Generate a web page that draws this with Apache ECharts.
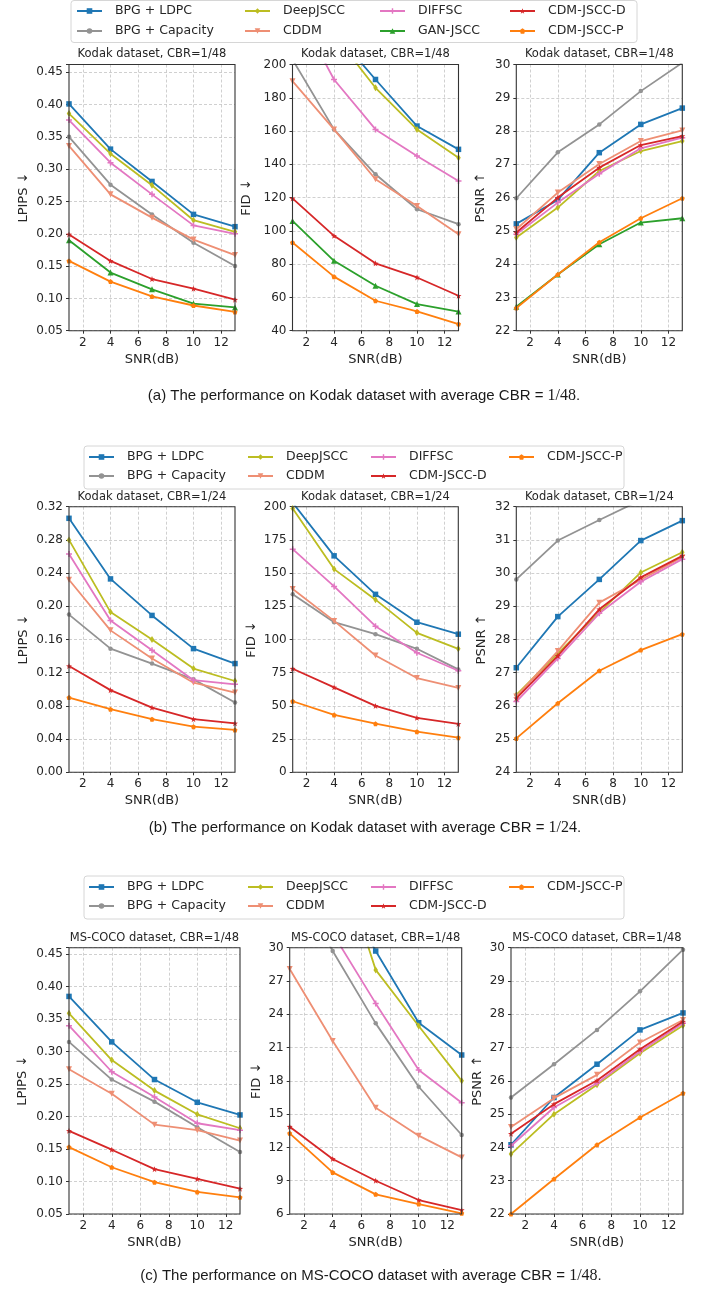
<!DOCTYPE html>
<html>
<head>
<meta charset="utf-8">
<script src="https://cdn.jsdelivr.net/npm/echarts@6/dist/echarts.min.js"></script>
<style>
  html, body { margin: 0; padding: 0; background: #fff; }
  #chart { width: 709px; height: 1294px; }
</style>
</head>
<body>
<div id="chart"></div>
<script>
// x values and tick labels
const snr = [1, 4, 7, 10, 13];
const snrTicks = [2, 4, 6, 8, 10, 12];

const methods = ['BPG + LDPC', 'BPG + Capacity', 'DeepJSCC', 'CDDM', 'DIFFSC', 'GAN-JSCC', 'CDM-JSCC-D', 'CDM-JSCC-P'];
const colors = ['#1f77b4', '#939393', '#bcbd22', '#ee8f74', '#e377c2', '#2ca02c', '#d62728', '#ff7f0e'];

// rows follow methods order, null = method not in that panel
// Kodak, CBR=1/48
const kodak48Lpips = [
  [0.401, 0.331, 0.281, 0.230, 0.211],
  [0.350, 0.276, 0.230, 0.186, 0.150],
  [0.386, 0.324, 0.275, 0.221, 0.203],
  [0.336, 0.261, 0.225, 0.191, 0.167],
  [0.376, 0.310, 0.261, 0.213, 0.200],
  [0.190, 0.140, 0.114, 0.092, 0.086],
  [0.199, 0.158, 0.130, 0.115, 0.098],
  [0.158, 0.126, 0.103, 0.089, 0.079]
];
const kodak48Fid = [
  [262, 220, 191, 163, 149],
  [203, 161, 134, 113, 104],
  [258, 218, 186, 161, 144],
  [190, 161, 131, 115, 98],
  [238, 191, 161, 145, 130],
  [106, 82, 67, 56, 51.5],
  [119.5, 97, 80.5, 72, 61],
  [93, 72.5, 58, 51.6, 44]
];
const kodak48Psnr = [
  [25.21, 25.93, 27.35, 28.2, 28.69],
  [25.98, 27.36, 28.2, 29.2, 30.05],
  [24.8, 25.7, 26.8, 27.4, 27.7],
  [25.05, 26.15, 27.01, 27.7, 28.02],
  [24.9, 25.85, 26.72, 27.48, 27.8],
  [22.72, 23.69, 24.6, 25.25, 25.38],
  [24.95, 26.0, 26.9, 27.58, 27.85],
  [22.68, 23.69, 24.66, 25.38, 25.98]
];
// Kodak, CBR=1/24
const kodak24Lpips = [
  [0.306, 0.233, 0.189, 0.149, 0.131],
  [0.190, 0.149, 0.131, 0.112, 0.084],
  [0.280, 0.193, 0.160, 0.125, 0.110],
  [0.232, 0.171, 0.137, 0.108, 0.096],
  [0.263, 0.183, 0.147, 0.111, 0.106],
  null,
  [0.128, 0.099, 0.078, 0.064, 0.059],
  [0.090, 0.076, 0.064, 0.055, 0.051]
];
const kodak24Fid = [
  [203, 163, 134, 113, 104],
  [134, 113, 104, 93, 77.5],
  [198.7, 153, 130, 105, 93],
  [138, 114, 88, 71, 63.5],
  [168, 140, 110, 90, 76.5],
  null,
  [78, 64, 50, 41, 36.4],
  [53.5, 43.2, 36.6, 30.6, 26.1]
];
const kodak24Psnr = [
  [27.15, 28.69, 29.81, 30.98, 31.58],
  [29.81, 30.98, 31.6, 32.2, 32.6],
  [26.33, 27.58, 28.81, 30.02, 30.63],
  [26.28, 27.65, 29.11, 29.8, 30.48],
  [26.13, 27.43, 28.79, 29.74, 30.42],
  null,
  [26.23, 27.51, 28.91, 29.87, 30.52],
  [25.02, 26.08, 27.06, 27.68, 28.16]
];
// MS-COCO, CBR=1/48
const coco48Lpips = [
  [0.385, 0.315, 0.257, 0.222, 0.2025],
  [0.315, 0.257, 0.223, 0.1835, 0.1455],
  [0.359, 0.287, 0.240, 0.2035, 0.182],
  [0.273, 0.235, 0.1876, 0.179, 0.163],
  [0.340, 0.269, 0.230, 0.1897, 0.179],
  null,
  [0.178, 0.149, 0.119, 0.104, 0.089],
  [0.153, 0.122, 0.099, 0.084, 0.0757]
];
const coco48Fid = [
  [45, 37.2, 29.7, 23.24, 20.33],
  [37, 29.7, 23.18, 17.47, 13.12],
  [52, 40, 28, 22.94, 18.0],
  [28.08, 21.59, 15.58, 13.06, 11.1],
  [38, 31.3, 24.98, 18.98, 16.03],
  null,
  [13.87, 10.96, 9.0, 7.26, 6.36],
  [13.27, 9.75, 7.77, 6.9, 6.06]
];
const coco48Psnr = [
  [24.08, 25.5, 26.5, 27.53, 28.04],
  [25.5, 26.5, 27.53, 28.69, 29.94],
  [23.8, 25.0, 25.88, 26.83, 27.66],
  [24.61, 25.48, 26.18, 27.15, 27.83],
  [24.05, 25.2, 25.93, 26.88, 27.73],
  null,
  [24.41, 25.3, 26.01, 26.95, 27.78],
  [22.0, 23.05, 24.08, 24.9, 25.63]
];

// symbols roughly like the matplotlib markers
const star = 'path://M5,0L6.2,3.5L10,3.8L7,6.1L8.1,9.8L5,7.6L1.9,9.8L3,6.1L0,3.8L3.8,3.5Z';
const pent = 'path://M5,0L10,3.8L8.1,9.8L1.9,9.8L0,3.8Z';
const plus = 'path://M3,0H5V3H8V5H5V8H3V5H0V3H3Z';
const symbols = [
  { symbol: 'rect', size: 5.5 },
  { symbol: 'circle', size: 4.5 },
  { symbol: 'diamond', size: [4.5, 7] },
  { symbol: 'triangle', size: 6, rotate: 180 },
  { symbol: plus, size: 6 },
  { symbol: 'triangle', size: 6 },
  { symbol: star, size: 6 },
  { symbol: pent, size: 5 }
];

const panels = [
  { title: 'Kodak dataset, CBR=1/48', data: kodak48Lpips, name: 'LPIPS ↓', min: 0.05, max: 0.462, step: 0.05, dec: 2, box: [69, 64.5, 166, 266.2], gap: 39 },
  { title: 'Kodak dataset, CBR=1/48', data: kodak48Fid, name: 'FID ↓', min: 40, max: 200, step: 20, dec: 0, box: [292.5, 64.5, 166, 266.2], gap: 39 },
  { title: 'Kodak dataset, CBR=1/48', data: kodak48Psnr, name: 'PSNR ↑', min: 22, max: 30, step: 1, dec: 0, box: [516.3, 64.5, 166, 266.2], gap: 29 },
  { title: 'Kodak dataset, CBR=1/24', data: kodak24Lpips, name: 'LPIPS ↓', min: 0, max: 0.32, step: 0.04, dec: 2, box: [69, 506.7, 166, 265.6], gap: 39 },
  { title: 'Kodak dataset, CBR=1/24', data: kodak24Fid, name: 'FID ↓', min: 0, max: 200, step: 25, dec: 0, box: [292.7, 506.7, 165.6, 265.6], gap: 35 },
  { title: 'Kodak dataset, CBR=1/24', data: kodak24Psnr, name: 'PSNR ↑', min: 24, max: 32, step: 1, dec: 0, box: [516.3, 506.7, 166, 265.6], gap: 28 },
  { title: 'MS-COCO dataset, CBR=1/48', data: coco48Lpips, name: 'LPIPS ↓', min: 0.05, max: 0.46, step: 0.05, dec: 2, box: [69, 947.7, 171, 266.3], gap: 40 },
  { title: 'MS-COCO dataset, CBR=1/48', data: coco48Fid, name: 'FID ↓', min: 6, max: 30, step: 3, dec: 0, box: [289.7, 947.7, 172, 266.3], gap: 27 },
  { title: 'MS-COCO dataset, CBR=1/48', data: coco48Psnr, name: 'PSNR ↑', min: 22, max: 30, step: 1, dec: 0, box: [511, 947.7, 172, 266.3], gap: 27 }
];

const textColor = '#262626';
const font = 'DejaVu Sans';

const grids = [], xAxes = [], yAxes = [], series = [], graphics = [];

panels.forEach((p, i) => {
  const [l, t, w, h] = p.box;
  // frame on top of the lines, like matplotlib spines
  grids.push({ left: l, top: t, width: w, height: h, show: true, z: 20, borderColor: '#333', borderWidth: 1.1, backgroundColor: 'transparent' });
  xAxes.push({
    type: 'value', gridIndex: i, min: 1, max: 13,
    name: 'SNR(dB)', nameLocation: 'middle', nameGap: 22,
    nameTextStyle: { fontFamily: font, fontSize: 13, color: textColor },
    axisLine: { show: false },
    axisTick: { show: true, length: 3, customValues: snrTicks, lineStyle: { color: '#333' } },
    axisLabel: { customValues: snrTicks, margin: 6, fontFamily: font, fontSize: 12, color: textColor },
    splitLine: { show: true, lineStyle: { color: '#c4c4c4', type: [3, 2], width: 0.8 } }
  });
  yAxes.push({
    type: 'value', gridIndex: i, min: p.min, max: p.max, interval: p.step,
    name: p.name, nameLocation: 'middle', nameRotate: 90, nameGap: p.gap,
    nameTextStyle: { fontFamily: font, fontSize: 13, color: textColor },
    axisLine: { show: false },
    axisTick: { show: true, length: 3, lineStyle: { color: '#333' } },
    axisLabel: {
      margin: 6, fontFamily: font, fontSize: 12, color: textColor,
      formatter: v => {
        const k = (v - p.min) / p.step;
        if (Math.abs(k - Math.round(k)) > 1e-6) return '';
        return v.toFixed(p.dec);
      }
    },
    splitLine: { show: true, lineStyle: { color: '#c4c4c4', type: [3, 2], width: 0.8 } }
  });
  p.data.forEach((vals, m) => {
    if (!vals) return;
    const s = symbols[m];
    series.push({
      type: 'line', name: methods[m], xAxisIndex: i, yAxisIndex: i,
      data: snr.map((x, k) => [x, vals[k]]),
      symbol: s.symbol, symbolSize: s.size, symbolRotate: s.rotate || 0,
      showSymbol: true, clip: true, z: 3 + m,
      lineStyle: { width: 1.8, color: colors[m] },
      itemStyle: { color: colors[m] },
      emphasis: { disabled: true }
    });
  });
  graphics.push({
    type: 'text', x: l + w / 2, y: t - 10, silent: true,
    style: { text: p.title, fontFamily: font, fontSize: 11.5, fill: textColor, align: 'center', verticalAlign: 'middle', textAlign: 'center', textVerticalAlign: 'middle' }
  });
});

// legends: one per entry so they sit in matplotlib's column-major grid
const legends = [];
const legendRows = [
  { box: [71, 0.5, 566, 42], cols: [76, 244, 379, 509], rows: [11, 31], items: [0, 1, 2, 3, 4, 5, 6, 7] },
  { box: [84, 446, 540, 43], cols: [88, 247, 370, 508], rows: [457, 476], items: [0, 1, 2, 3, 4, 6, 7] },
  { box: [84, 876, 540, 43], cols: [88, 247, 370, 508], rows: [887, 906], items: [0, 1, 2, 3, 4, 6, 7] }
];
legendRows.forEach(r => {
  graphics.push({
    type: 'rect', silent: true, z: -1,
    shape: { x: r.box[0], y: r.box[1], width: r.box[2], height: r.box[3], r: 3 },
    style: { fill: '#fff', stroke: '#d6d6d6', lineWidth: 1 }
  });
  r.items.forEach((m, j) => {
    legends.push({
      data: [methods[m]],
      left: r.cols[Math.floor(j / 2)], top: r.rows[j % 2] - 7.5,
      padding: 0, itemWidth: 25, itemHeight: 7,
      selectedMode: false,
      textStyle: { fontFamily: font, fontSize: 12.5, color: textColor, lineHeight: 15, padding: [0, 0, 0, 8] }
    });
  });
});

// captions
const captions = [
  { text: '(a) The performance on Kodak dataset with average CBR = {m|1/48}.', x: 364, y: 396 },
  { text: '(b) The performance on Kodak dataset with average CBR = {m|1/24}.', x: 365, y: 828 },
  { text: '(c) The performance on MS-COCO dataset with average CBR = {m|1/48}.', x: 371, y: 1276 }
];
captions.forEach(c => {
  graphics.push({
    type: 'text', x: c.x, y: c.y, silent: true,
    style: {
      text: c.text, fontFamily: 'Liberation Sans', fontSize: 15, fill: '#1a1a1a',
      align: 'center', verticalAlign: 'middle', textAlign: 'center', textVerticalAlign: 'middle',
      rich: { m: { fontFamily: 'Liberation Serif', fontSize: 16, fill: '#1a1a1a' } }
    }
  });
});

const myChart = echarts.init(document.getElementById('chart'));
myChart.setOption({
  animation: false,
  backgroundColor: '#fff',
  grid: grids,
  xAxis: xAxes,
  yAxis: yAxes,
  legend: legends,
  series: series,
  graphic: graphics
});
</script>
</body>
</html>
